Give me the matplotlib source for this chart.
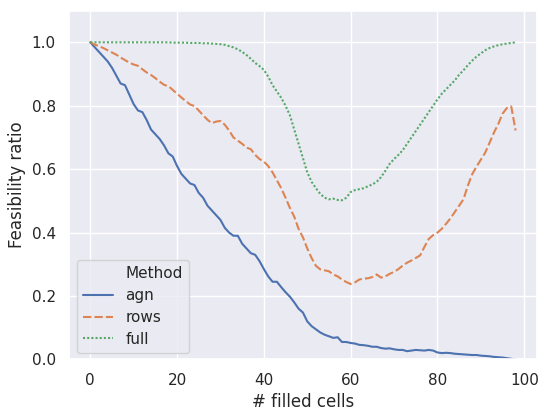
import numpy as np
import pandas as pd
import seaborn as sns
import matplotlib
matplotlib.use("Agg")
import matplotlib.pyplot as plt
from matplotlib.lines import Line2D

# feasibility ratio per number of filled cells (0..98)
filled = list(range(99))

agn = [
    1.000, 0.985, 0.970, 0.955, 0.940, 0.920, 0.895, 0.870, 0.865, 0.835,
    0.805, 0.785, 0.780, 0.755, 0.725, 0.710, 0.695, 0.675, 0.650, 0.640,
    0.610, 0.585, 0.570, 0.555, 0.550, 0.525, 0.510, 0.485, 0.470, 0.455,
    0.440, 0.415, 0.400, 0.390, 0.390, 0.365, 0.350, 0.335, 0.330, 0.310,
    0.285, 0.262, 0.245, 0.245, 0.228, 0.212, 0.198, 0.180, 0.160, 0.148,
    0.120, 0.105, 0.095, 0.085, 0.078, 0.073, 0.068, 0.070, 0.055, 0.055,
    0.052, 0.050, 0.046, 0.045, 0.043, 0.040, 0.040, 0.036, 0.034, 0.035,
    0.032, 0.030, 0.030, 0.026, 0.028, 0.030, 0.029, 0.028, 0.030, 0.028,
    0.022, 0.020, 0.021, 0.020, 0.018, 0.017, 0.016, 0.015, 0.014, 0.014,
    0.012, 0.011, 0.010, 0.008, 0.007, 0.006, 0.004, 0.002, 0.000,
]

rows = [
    1.000, 0.993, 0.988, 0.982, 0.975, 0.968, 0.961, 0.952, 0.944, 0.936,
    0.930, 0.926, 0.915, 0.905, 0.897, 0.887, 0.876, 0.866, 0.862, 0.850,
    0.838, 0.826, 0.815, 0.804, 0.799, 0.785, 0.770, 0.756, 0.745, 0.750,
    0.752, 0.740, 0.722, 0.700, 0.690, 0.680, 0.668, 0.663, 0.645, 0.632,
    0.624, 0.610, 0.590, 0.565, 0.540, 0.510, 0.478, 0.450, 0.412, 0.385,
    0.350, 0.320, 0.295, 0.284, 0.281, 0.278, 0.268, 0.262, 0.252, 0.244,
    0.238, 0.243, 0.252, 0.255, 0.256, 0.260, 0.268, 0.258, 0.262, 0.270,
    0.276, 0.285, 0.296, 0.305, 0.312, 0.320, 0.328, 0.355, 0.380, 0.392,
    0.400, 0.412, 0.428, 0.445, 0.465, 0.485, 0.505, 0.548, 0.584, 0.608,
    0.630, 0.652, 0.683, 0.715, 0.742, 0.775, 0.793, 0.798, 0.722,
]

full = [
    1.000, 1.000, 1.000, 1.000, 1.000, 1.000, 1.000, 1.000, 1.000, 1.000,
    1.000, 1.000, 1.000, 1.000, 1.000, 1.000, 1.000, 1.000, 1.000, 0.999,
    0.999, 0.999, 0.999, 0.998, 0.998, 0.998, 0.997, 0.997, 0.996, 0.995,
    0.994, 0.992, 0.988, 0.984, 0.978, 0.970, 0.960, 0.948, 0.935, 0.925,
    0.913, 0.892, 0.865, 0.845, 0.825, 0.800, 0.770, 0.725, 0.680, 0.635,
    0.590, 0.560, 0.540, 0.522, 0.510, 0.505, 0.507, 0.503, 0.502, 0.510,
    0.528, 0.534, 0.537, 0.540, 0.546, 0.552, 0.560, 0.575, 0.595, 0.617,
    0.632, 0.645, 0.660, 0.680, 0.700, 0.720, 0.740, 0.760, 0.780, 0.800,
    0.820, 0.838, 0.852, 0.866, 0.880, 0.898, 0.912, 0.928, 0.942, 0.955,
    0.965, 0.975, 0.982, 0.987, 0.991, 0.994, 0.996, 0.998, 1.000,
]

methods = ["agn", "rows", "full"]

df = pd.DataFrame({
    "# filled cells": filled * 3,
    "Feasibility ratio": agn + rows + full,
    "Method": ["agn"] * 99 + ["rows"] * 99 + ["full"] * 99,
})

sns.set_theme()

fig, ax = plt.subplots(figsize=(5.39, 4.08), dpi=100)
fig.subplots_adjust(left=0.128, right=0.996, bottom=0.119, top=0.974)

sns.lineplot(data=df, x="# filled cells", y="Feasibility ratio",
             hue="Method", style="Method", hue_order=methods,
             style_order=methods, ax=ax)

ax.set_ylim(0, 1.1)
ax.set_xticks([0, 20, 40, 60, 80, 100])
ax.set_xlim(-4.9, 102.9)

# old-style seaborn legend: title shown as an entry without a handle
handles, labels = ax.get_legend_handles_labels()
ax.get_legend().remove()
blank = Line2D([], [], linestyle="none")
ax.legend([blank] + handles[-3:], ["Method"] + labels[-3:], loc="lower left",
          labelspacing=0.45, bbox_to_anchor=(0, -0.003))

fig.savefig("out.png")
